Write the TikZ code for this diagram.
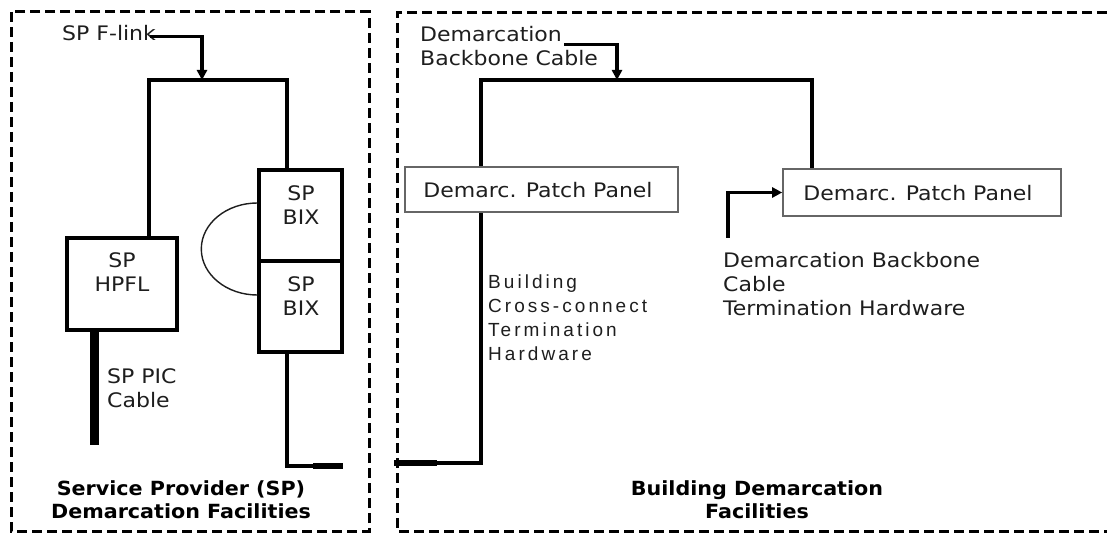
\documentclass[tikz,border=0pt]{standalone}
\usepackage{fontspec}
\usetikzlibrary{arrows.meta}
\newfontfamily\tah[FakeStretch=1.1,BoldFont={DejaVu Sans Bold},BoldFeatures={FakeStretch=1.06}]{DejaVu Sans}
\newfontfamily\ari[LetterSpace=16]{Liberation Sans}
\definecolor{ink}{HTML}{1E1E1E}
\tikzset{
  wire/.style={line width=3.4pt, black},
  frame/.style={line width=3pt, black, dash pattern=on 10pt off 5pt},
  boxx/.style={draw=black, line width=3.4pt, inner sep=0pt},
  panel/.style={draw=black!60, line width=1.6pt, inner sep=0pt, fill=white},
  lbl/.style={text=ink, font=\tah\fontsize{20}{24}\selectfont, inner sep=0pt, align=left},
  clbl/.style={text=ink, font=\tah\fontsize{20}{24}\selectfont, inner sep=0pt, align=center},
  albl/.style={text=ink, font=\ari\fontsize{19}{24}\selectfont, inner sep=0pt, align=left},
  title/.style={text=black, font=\tah\bfseries\fontsize{19.5}{23}\selectfont, inner sep=0pt, align=center},
  tip/.style={-{Triangle[length=10pt,width=10pt]}}
}
\begin{document}
\begin{tikzpicture}[x=1pt,y=-1pt]
\useasboundingbox (0,0) rectangle (1107,534);
\fill[white] (0,0) rectangle (1107,534);

% frames
\draw[frame] (11,12) rectangle (369,531);
\draw[frame] (1107,13) -- (397,13) -- (397,531) -- (1107,531);

% SP boxes
\node[boxx, minimum width=110pt, minimum height=92pt] (hpfl) at (122,284) {};
\node[clbl] (hpfltxt) at (122,272) {SP\\HPFL};
\node[boxx, minimum width=83pt, minimum height=91pt] (bixA) at (300.5,215.5) {};
\node[clbl] (bixAtxt) at (301,205) {SP\\BIX};
\node[boxx, minimum width=83pt, minimum height=91pt] (bixB) at (300.5,306.5) {};
\node[clbl] (bixBtxt) at (301,296) {SP\\BIX};

% patch panels
\node[panel, minimum width=273pt, minimum height=45pt] (pp1) at (541.5,189.5) {};
\node[lbl] (pp1txt) at (538,190) {Demarc. Patch Panel};
\node[panel, minimum width=278pt, minimum height=47pt] (pp2) at (922,192.5) {};
\node[lbl] (pp2txt) at (918,193) {Demarc. Patch Panel};

% labels
\node[lbl, anchor=base west] (flink) at (62,41) {SP F-link};
\node[lbl, anchor=base west] (dem) at (420,42) {Demarcation};
\node[lbl, anchor=base west] (bbc) at (420,66) {Backbone Cable};
\node[lbl, anchor=base west] (pic) at (107,407) {SP PIC\\Cable};
\node[lbl, anchor=base west] (dbc) at (723,316) {Demarcation Backbone\\Cable\\Termination Hardware};
\node[albl, anchor=base west] (bcc) at (488,360) {Building\\Cross-connect\\Termination\\Hardware};
\node[title, anchor=base] (t1) at (181,518) {Service Provider (SP)\\Demarcation Facilities};
\node[title, anchor=base] (t2) at (757,518) {Building Demarcation\\Facilities};

% coordinates
\coordinate (tl) at (149,80);
\coordinate (tr) at (287,80);
\coordinate (fl) at (202,80);
\coordinate (c1) at (287,466);
\coordinate (c2) at (343,466);
\coordinate (c3) at (394,463);
\coordinate (c4) at (481,463);
\coordinate (tl2) at (481,80);
\coordinate (tr2) at (812,80);
\coordinate (dl) at (617,80);
\coordinate (pa) at (728,238);
\coordinate (picend) at (94,445);

% SP wiring
\draw[wire] (tl |- hpfl.north) -- (tl) -- (tr) -- (tr |- bixA.north);
\draw[wire, tip] ([xshift=-6pt,yshift=-3pt]flink.east) -| (fl);
\draw[line width=1.4pt, ink] ([yshift=12.5pt]bixA.west) arc[start angle=90, end angle=270, x radius=56pt, y radius=46pt];
\draw[line width=9pt] (picend |- hpfl.south) ++(0,-3) -- (picend);
\draw[wire] (c1 |- bixB.south) -- (c1) -- (c2);
\draw[line width=5.5pt] (313,466) -- (c2);

% Building wiring
\draw[wire] (c3) -- (c4) -- (c4 |- pp1.south);
\draw[line width=5.5pt] (c3) -- (437,463);
\draw[wire] (tl2 |- pp1.north) -- (tl2) -- (tr2) -- (tr2 |- pp2.north);
\draw[wire, tip] ([xshift=2pt,yshift=-10pt]dem.east) -| (dl);
\draw[wire, tip] (pa) |- (pp2.west);
\end{tikzpicture}
\end{document}
